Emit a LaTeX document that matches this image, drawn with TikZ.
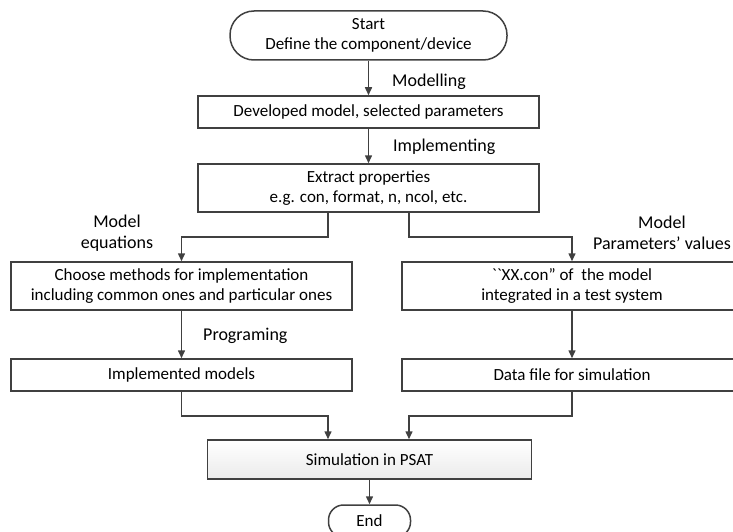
\documentclass[tikz,border=0pt]{standalone}
\usepackage{fontspec}
\setmainfont{Carlito}
\usetikzlibrary{arrows.meta}
\definecolor{ln}{HTML}{404040}
\tikzset{
  box/.style={draw=ln, line width=1.5pt, fill=white, align=center, inner sep=0pt, font=\fontsize{17}{20}\selectfont},
  term/.style={box, rounded corners=24pt},
  lbl/.style={align=center, inner sep=0pt, font=\fontsize{18}{21}\selectfont},
  arr/.style={draw=ln, line width=1.5pt, -{Triangle[length=8pt,width=7pt]}},
}
\begin{document}
\begin{tikzpicture}[x=1pt,y=-1pt]
\useasboundingbox (0,0) rectangle (733,532);
\clip (0,0) rectangle (733,532);
\node[term, minimum width=277pt, minimum height=49pt] (start) at (368.5,35.5) {Start\\Define the component/device};
\node[box, minimum width=341pt, minimum height=32pt] (dev) at (368.5,112) {Developed model, selected parameters};
\node[box, minimum width=341pt, minimum height=48pt] (ext) at (368.5,188) {Extract properties\\e.g. con, format, n, ncol, etc.};
\node[box, minimum width=341pt, minimum height=48pt] (cho) at (181.5,286) {Choose methods for implementation\\including common ones and particular ones};
\node[box, minimum width=340pt, minimum height=48pt] (xx) at (572,286) {\textasciigrave\textasciigrave XX.con” of\ \ the model\\integrated in a test system};
\node[box, minimum width=341pt, minimum height=32pt] (imp) at (181.5,375) {Implemented models};
\node[box, minimum width=340pt, minimum height=32pt] (dat) at (572,375) {Data file for simulation};
\node[box, top color=white, bottom color=black!8, minimum width=324pt, minimum height=39pt] (sim) at (369.5,459.5) {Simulation in PSAT};
\node[term, rounded corners=15pt, minimum width=82pt, minimum height=32pt] (end) at (369.5,521) {End};

\node[lbl, anchor=west] (lmod) at (392,82) {Modelling};
\node[lbl, anchor=west] (limp) at (393,147) {Implementing};
\node[lbl] (leq) at (117,233) {Model\\equations};
\node[lbl, anchor=east] (lpar) at (731,233) {Model\\Parameters’ values};
\node[lbl, anchor=west] (lprog) at (203,336) {Programing};

\coordinate (l1) at (328,237);
\coordinate (r1) at (409,237);
\coordinate (l2) at (328,416);
\coordinate (r2) at (409,416);

\draw[arr] (start) -- (dev);
\draw[arr] (dev) -- (ext);
\draw[arr] (ext.south -| l1) -- (l1) -| (cho.north);
\draw[arr] (ext.south -| r1) -- (r1) -| (xx.north);
\draw[arr] (cho) -- (imp);
\draw[arr] (xx) -- (dat);
\draw[arr] (imp.south) |- (l2) -- (sim.north -| l2);
\draw[arr] (dat.south) |- (r2) -- (sim.north -| r2);
\draw[arr] (sim) -- (end);
\end{tikzpicture}
\end{document}
